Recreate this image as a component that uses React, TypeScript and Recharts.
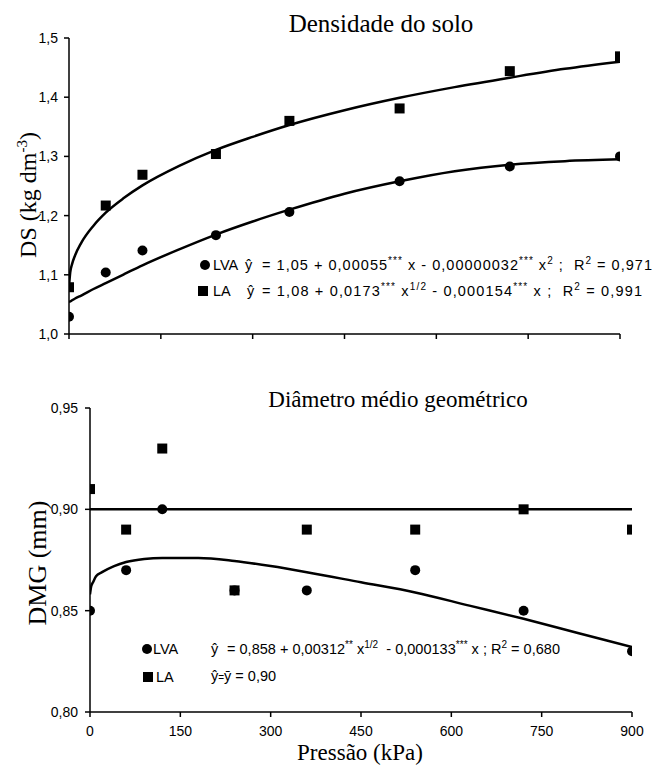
import React from "react";
import { ComposedChart, Line, Scatter, XAxis, YAxis } from "recharts";

// pressure levels (kPa)
const pressao = [0, 60, 120, 240, 360, 540, 720, 900];

// soil bulk density (kg dm-3)
const dsLVA = [1.029, 1.104, 1.141, 1.167, 1.206, 1.258, 1.283, 1.3];
const dsLA = [1.079, 1.217, 1.269, 1.304, 1.36, 1.381, 1.444, 1.469];

// geometric mean diameter (mm)
const dmgLVA = [0.85, 0.87, 0.9, 0.86, 0.86, 0.87, 0.85, 0.83];
const dmgLA = [0.91, 0.89, 0.93, 0.86, 0.89, 0.89, 0.9, 0.89];

// fitted curves
const fitX = [0, 2, 5, 10, 20, 40, 60, 90, 120, 180, 240, 300, 360, 450, 540, 630, 720, 810, 900];
const dsLVAFit = [1.054, 1.055, 1.057, 1.06, 1.065, 1.076, 1.086, 1.101, 1.116, 1.143, 1.168, 1.19, 1.21, 1.237, 1.258, 1.275, 1.286, 1.292, 1.295];
const dsLAFit = [1.08, 1.104, 1.118, 1.133, 1.154, 1.183, 1.205, 1.23, 1.251, 1.284, 1.311, 1.333, 1.353, 1.378, 1.399, 1.417, 1.433, 1.448, 1.46];
const dmgLVAFit = [0.858, 0.862, 0.864, 0.867, 0.869, 0.872, 0.874, 0.8755, 0.876, 0.876, 0.8745, 0.872, 0.869, 0.864, 0.859, 0.8525, 0.846, 0.839, 0.832];
const dmgLAMean = [0.9, 0.9];
const meanX = [0, 900];

const xTicks = [0, 150, 300, 450, 600, 750, 900];
const dsTicks = [1.0, 1.1, 1.2, 1.3, 1.4, 1.5];
const dmgTicks = [0.8, 0.85, 0.9, 0.95];

const pts = (xs: number[], ys: number[]) => xs.map((x, i) => ({ x, y: ys[i] }));

const SANS = "'Liberation Sans', Arial, sans-serif";
const SERIF = "'Liberation Serif', 'Times New Roman', serif";

const Square = (p: any) => (
  <rect x={p.cx - 5} y={p.cy - 5} width={10} height={10} fill="#000" />
);
const Dot = (p: any) => <circle cx={p.cx} cy={p.cy} r={5} fill="#000" />;

const tickStyle = { fill: "#000", fontSize: 14, fontFamily: SANS };
const axisStroke = { stroke: "#000", strokeWidth: 1.5 };

type Part = [string, boolean?];

const Eq = ({ x, y, parts, width }: { x: number; y: number; parts: Part[]; width?: number }) => {
  let up = false;
  return (
    <text
      x={x}
      y={y}
      fontFamily={SANS}
      fontSize={14.5}
      fill="#000"
      style={{ whiteSpace: "pre" }}
      textLength={width}
      lengthAdjust={width ? "spacing" : undefined}
    >
      {parts.map(([t, sup], i) => {
        let dy = 0;
        if (sup && !up) dy = -6;
        if (!sup && up) dy = 6;
        up = !!sup;
        return (
          <tspan key={i} dy={dy} fontSize={sup ? 10 : 14.5}>
            {t}
          </tspan>
        );
      })}
    </text>
  );
};

const Overlay = () => (
  <svg
    width={662}
    height={765}
    style={{ position: "absolute", left: 0, top: 0, pointerEvents: "none" }}
  >
    {/* titles */}
    <text x={381} y={32} textAnchor="middle" fontFamily={SERIF} fontSize={25}>
      Densidade do solo
    </text>
    <text x={398} y={407} textAnchor="middle" fontFamily={SERIF} fontSize={23}>
      Diâmetro médio geométrico
    </text>
    <text x={360} y={760} textAnchor="middle" fontFamily={SERIF} fontSize={23}>
      Pressão (kPa)
    </text>
    <text
      x={36}
      y={195}
      textAnchor="middle"
      fontFamily={SERIF}
      fontSize={24}
      transform="rotate(-90 36 195)"
    >
      DS (kg dm
      <tspan dy={-9} fontSize={15}>-3</tspan>
      <tspan dy={9}>)</tspan>
    </text>
    <text
      x={46}
      y={563}
      textAnchor="middle"
      fontFamily={SERIF}
      fontSize={26}
      transform="rotate(-90 46 563)"
    >
      DMG (mm)
    </text>

    {/* legend, top panel */}
    <circle cx={205} cy={265} r={5} fill="#000" />
    <text x={213} y={270} fontFamily={SANS} fontSize={14.5}>LVA</text>
    <text x={245} y={270} fontFamily={SANS} fontSize={14.5}>ŷ</text>
    <Eq
      x={262}
      y={270}
      width={390}
      parts={[
        ["= 1,05 + 0,00055"],
        ["***", true],
        [" x - 0,00000032"],
        ["***", true],
        [" x"],
        ["2", true],
        [" ;  R"],
        ["2", true],
        [" = 0,971"],
      ]}
    />
    <rect x={198} y={286} width={10} height={10} fill="#000" />
    <text x={213} y={296} fontFamily={SANS} fontSize={14.5}>LA</text>
    <text x={247} y={296} fontFamily={SANS} fontSize={14.5}>ŷ</text>
    <Eq
      x={262}
      y={296}
      width={380}
      parts={[
        ["= 1,08 + 0,0173"],
        ["***", true],
        [" x"],
        ["1/2", true],
        [" - 0,000154"],
        ["***", true],
        [" x ;  R"],
        ["2", true],
        [" = 0,991"],
      ]}
    />

    {/* legend, bottom panel */}
    <circle cx={147} cy={649} r={5} fill="#000" />
    <text x={153} y={654} fontFamily={SANS} fontSize={14.5}>LVA</text>
    <text x={211} y={654} fontFamily={SANS} fontSize={14.5}>ŷ</text>
    <Eq
      x={227}
      y={654}
      width={333}
      parts={[
        ["= 0,858 + 0,00312"],
        ["**", true],
        [" x"],
        ["1/2", true],
        ["  - 0,000133"],
        ["***", true],
        [" x ; R"],
        ["2", true],
        [" = 0,680"],
      ]}
    />
    <rect x={143} y={672} width={10} height={10} fill="#000" />
    <text x={156} y={682} fontFamily={SANS} fontSize={14.5}>LA</text>
    <text x={211} y={681} fontFamily={SANS} fontSize={14.5}>
      ŷ<tspan fontSize={10}>=</tspan>ȳ = 0,90
    </text>
  </svg>
);

export default function App() {
  return (
    <div
      style={{
        position: "absolute",
        left: 0,
        top: 0,
        width: 662,
        height: 765,
        background: "#fff",
      }}
    >
      <div style={{ position: "absolute", left: 0, top: 0 }}>
        <ComposedChart
          width={662}
          height={360}
          margin={{ top: 38, right: 42, left: 0, bottom: 0 }}
        >
          <XAxis
            type="number"
            dataKey="x"
            domain={[0, 900]}
            ticks={xTicks}
            height={26}
            axisLine={axisStroke}
            tickLine={axisStroke}
            tickSize={5}
            tickFormatter={() => ""}
            allowDataOverflow
          />
          <YAxis
            type="number"
            dataKey="y"
            domain={[1.0, 1.5]}
            ticks={dsTicks}
            width={69}
            axisLine={axisStroke}
            tickLine={axisStroke}
            tickSize={5}
            tickMargin={6}
            tick={tickStyle}
            tickFormatter={(v: number) => v.toFixed(1).replace(".", ",")}
            allowDataOverflow
          />
          <Line
            data={pts(fitX, dsLVAFit)}
            dataKey="y"
            type="monotone"
            stroke="#000"
            strokeWidth={2.5}
            dot={false}
            activeDot={false}
            isAnimationActive={false}
          />
          <Line
            data={pts(fitX, dsLAFit)}
            dataKey="y"
            type="monotone"
            stroke="#000"
            strokeWidth={2.5}
            dot={false}
            activeDot={false}
            isAnimationActive={false}
          />
          <Scatter data={pts(pressao, dsLVA)} shape={Dot} isAnimationActive={false} />
          <Scatter data={pts(pressao, dsLA)} shape={Square} isAnimationActive={false} />
        </ComposedChart>
      </div>
      <div style={{ position: "absolute", left: 0, top: 360 }}>
        <ComposedChart
          width={662}
          height={405}
          margin={{ top: 48, right: 30, left: 0, bottom: 0 }}
        >
          <XAxis
            type="number"
            dataKey="x"
            domain={[0, 900]}
            ticks={xTicks}
            height={53}
            axisLine={axisStroke}
            tickLine={axisStroke}
            tickSize={5}
            tickMargin={9}
            tick={tickStyle}
            allowDataOverflow
          />
          <YAxis
            type="number"
            dataKey="y"
            domain={[0.8, 0.95]}
            ticks={dmgTicks}
            width={90}
            axisLine={axisStroke}
            tickLine={axisStroke}
            tickSize={5}
            tickMargin={7}
            tick={tickStyle}
            tickFormatter={(v: number) => v.toFixed(2).replace(".", ",")}
            allowDataOverflow
          />
          <Line
            data={pts(meanX, dmgLAMean)}
            dataKey="y"
            type="linear"
            stroke="#000"
            strokeWidth={2.5}
            dot={false}
            activeDot={false}
            isAnimationActive={false}
          />
          <Line
            data={pts(fitX, dmgLVAFit)}
            dataKey="y"
            type="monotone"
            stroke="#000"
            strokeWidth={2.5}
            dot={false}
            activeDot={false}
            isAnimationActive={false}
          />
          <Scatter data={pts(pressao, dmgLVA)} shape={Dot} isAnimationActive={false} />
          <Scatter data={pts(pressao, dmgLA)} shape={Square} isAnimationActive={false} />
        </ComposedChart>
      </div>
      <Overlay />
    </div>
  );
}
